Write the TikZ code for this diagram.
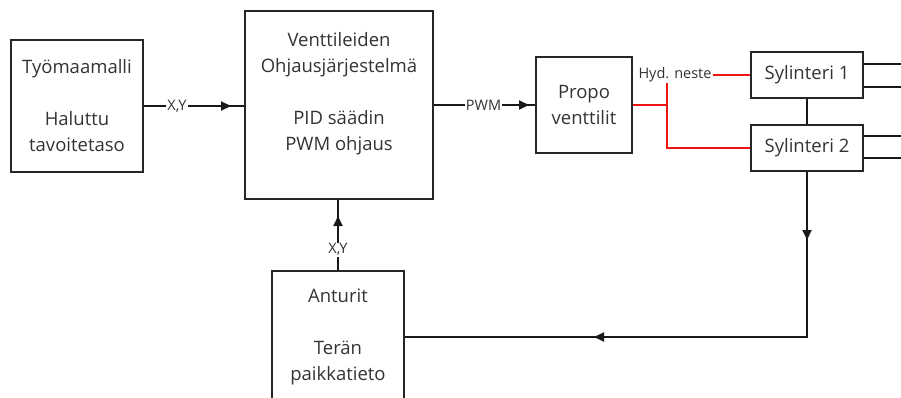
\documentclass[tikz,border=0pt]{standalone}
\usepackage{fontspec}
\setmainfont{Open Sans}
\usetikzlibrary{arrows.meta,decorations.markings}
\definecolor{hydred}{RGB}{240,20,20}
\begin{document}
\begin{tikzpicture}[x=1pt,y=-1pt,
  box/.style={draw=black!85, line width=2pt, inner sep=0pt},
  txt/.style={align=center, text=black!80, font=\fontsize{18.5}{26}\selectfont, inner sep=0pt},
  lbl/.style={fill=white, inner sep=1pt, text=black!80, font=\fontsize{14.5}{16}\selectfont},
  conn/.style={draw=black!90, line width=2pt},
  hyd/.style={color=hydred, line width=2pt},
  tip/.style={postaction={decorate}, decoration={markings, mark=at position #1 with {\arrow{Triangle[length=10pt,width=9pt]}}}}
]
\useasboundingbox (0,0) rectangle (901,398);
\clip (0,0) rectangle (901,398);

% boxes
\node[box, minimum width=132pt, minimum height=132pt] (tm) at (77,106) {};
\node[txt] (tmt) at (77,106) {Työmaamalli\\[26pt]Haluttu\\tavoitetaso};

\node[box, minimum width=188pt, minimum height=188pt] (vent) at (339,105) {};
\node[txt] (ventt) at (339,93.5) {Venttileiden\\Ohjausjärjestelmä\\[26pt]PID säädin\\PWM ohjaus};

\node[box, txt, draw=black!85, line width=2pt, minimum width=96pt, minimum height=96pt] (propo) at (584,105) {Propo\\venttilit};

\node[box, txt, draw=black!85, line width=2pt, minimum width=112pt, minimum height=46pt] (syl1) at (807,75) {Sylinteri 1};
\node[box, txt, draw=black!85, line width=2pt, minimum width=112pt, minimum height=46pt] (syl2) at (807,148) {Sylinteri 2};

\node[box, minimum width=132pt, minimum height=150pt] (ant) at (338,346) {};
\node[txt] (antt) at (338,336.5) {Anturit\\[26pt]Terän\\paikkatieto};

% connectors
\draw[conn, tip=-13pt] (tm.east) -- (tm.east -| vent.west) node[lbl, pos=0.33] (xy1) {X,Y};
\draw[conn, tip=-6pt] (vent.east) -- (vent.east -| propo.west) node[lbl, pos=0.49] (pwm) {PWM};
\draw[conn, tip=-16pt] (ant.north) -- (ant.north |- vent.south) node[lbl, pos=0.29] (xy2) {X,Y};

\coordinate (fb) at (807,337);
\draw[conn, tip=68pt] (syl2.south) -- (fb) -- (fb -| ant.east);
\draw[conn, tip=-189pt] (syl2.south) -- (fb) -- (fb -| ant.east);
\draw[conn] (syl1.south) -- (syl2.north);

% hydraulic
\coordinate (j) at (667,105);
\node[lbl] (hydl) at (675,75) {Hyd. neste};
\draw[hyd] (propo.east) -- (j);
\draw[hyd] (hydl.south -| j) -- (j |- syl2.west) -- (syl2.west);
\draw[hyd] (hydl.east) -- (syl1.west);

% outputs to the right
\coordinate (r1) at (901,64);
\coordinate (r2) at (901,87);
\coordinate (r3) at (901,136);
\coordinate (r4) at (901,158);
\draw[conn] (r1 -| syl1.east) -- (r1);
\draw[conn] (r2 -| syl1.east) -- (r2);
\draw[conn] (r3 -| syl2.east) -- (r3);
\draw[conn] (r4 -| syl2.east) -- (r4);
\end{tikzpicture}
\end{document}
